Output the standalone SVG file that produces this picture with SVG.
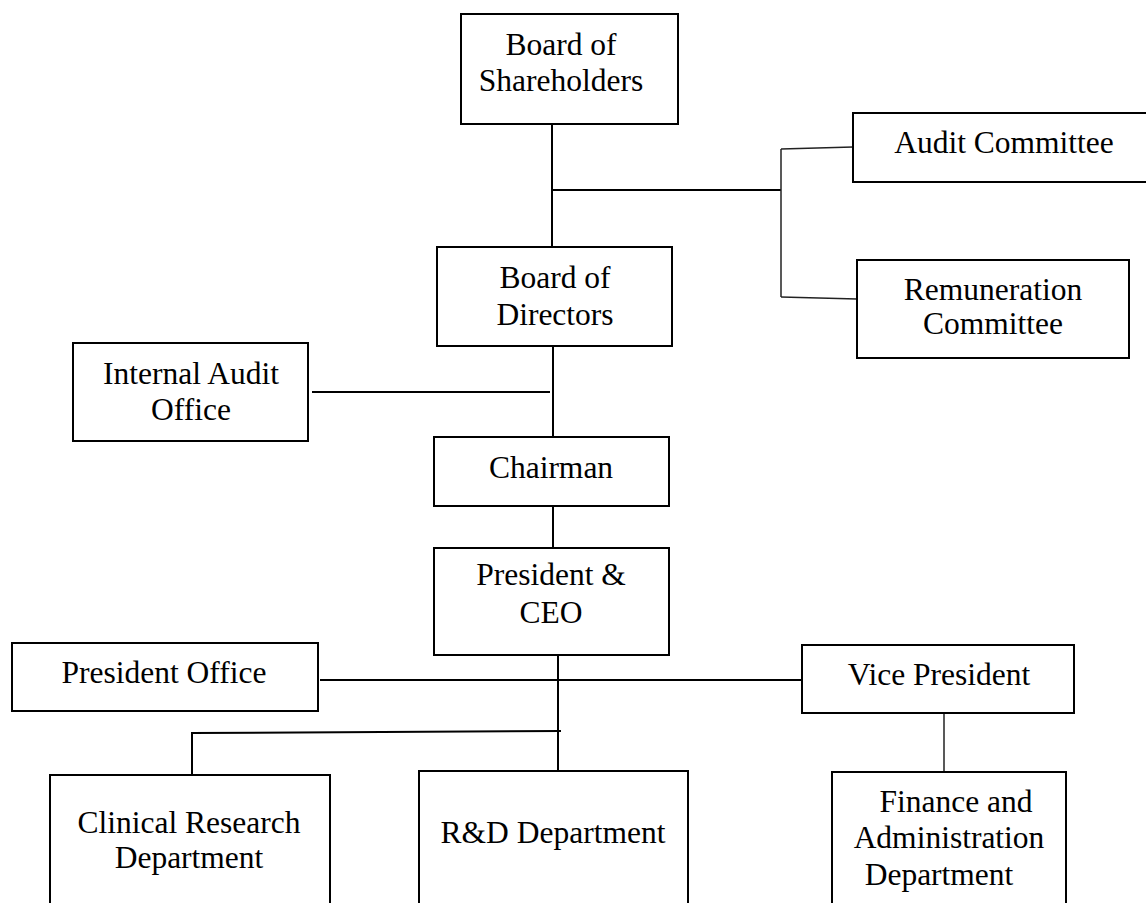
<svg xmlns="http://www.w3.org/2000/svg" width="1146" height="903" viewBox="0 0 1146 903">
<style>
rect{fill:#fff;stroke:#000;stroke-width:2}
text{font-family:"Liberation Serif","Times New Roman",serif;font-size:31.5px;fill:#000;text-anchor:middle}
.c line,.c polyline{stroke:#000;stroke-width:2;fill:none}
.c .thin{stroke:#222;stroke-width:1.5}
</style>
<rect x="0" y="0" width="1146" height="903" style="stroke:none"/>
<g class="c" id="connectors">
<line x1="552" y1="124" x2="552" y2="247"/>
<line x1="552" y1="190" x2="781" y2="190"/>
<line x1="781" y1="149" x2="781" y2="297" class="thin"/>
<line x1="781" y1="149" x2="853" y2="147" class="thin"/>
<line x1="781" y1="297" x2="857" y2="299" class="thin"/>
<line x1="553" y1="346" x2="553" y2="437"/>
<line x1="312" y1="392" x2="550" y2="392"/>
<line x1="553" y1="506" x2="553" y2="548"/>
<line x1="558" y1="655" x2="558" y2="771"/>
<line x1="320" y1="680" x2="802" y2="680"/>
<polyline points="192,775 192,733 561,731"/>
<line x1="944" y1="713" x2="944" y2="772" class="thin"/>
</g>
<g id="board-shareholders"><rect x="461" y="14" width="217" height="110"/><text x="561" y="55">Board of</text><text x="561" y="91">Shareholders</text></g>
<g id="audit-committee"><rect x="853" y="113" width="300" height="69"/><text x="1004" y="153">Audit Committee</text></g>
<g id="remuneration-committee"><rect x="857" y="260" width="272" height="98"/><text x="993" y="300">Remuneration</text><text x="993" y="334">Committee</text></g>
<g id="board-directors"><rect x="437" y="247" width="235" height="99"/><text x="555" y="288">Board of</text><text x="555" y="325">Directors</text></g>
<g id="internal-audit"><rect x="73" y="343" width="235" height="98"/><text x="191" y="384">Internal Audit</text><text x="191" y="420">Office</text></g>
<g id="chairman"><rect x="434" y="437" width="235" height="69"/><text x="551" y="478">Chairman</text></g>
<g id="president-ceo"><rect x="434" y="548" width="235" height="107"/><text x="551" y="585">President &amp;</text><text x="551" y="623">CEO</text></g>
<g id="president-office"><rect x="12" y="643" width="306" height="68"/><text x="164" y="683">President Office</text></g>
<g id="vice-president"><rect x="802" y="645" width="272" height="68"/><text x="939" y="685">Vice President</text></g>
<g id="clinical-research"><rect x="50" y="775" width="280" height="140"/><text x="189" y="833">Clinical Research</text><text x="189" y="868">Department</text></g>
<g id="rd-department"><rect x="419" y="771" width="269" height="144"/><text x="553" y="843">R&amp;D Department</text></g>
<g id="finance-admin"><rect x="832" y="772" width="234" height="143"/><text x="956" y="812">Finance and</text><text x="949" y="848">Administration</text><text x="939" y="885">Department</text></g>
</svg>
